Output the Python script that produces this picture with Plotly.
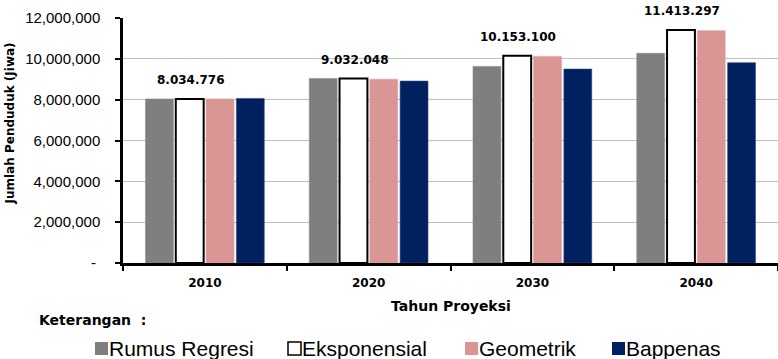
import plotly.graph_objects as go

# Population projection by method (jiwa)
years = ["2010", "2020", "2030", "2040"]
series_names = ["Rumus Regresi", "Eksponensial", "Geometrik", "Bappenas"]
rumus_regresi = [8034776, 9040000, 9630000, 10270000]
eksponensial = [8034776, 9032048, 10153100, 11413297]
geometrik = [8034776, 9000000, 10120000, 11380000]
bappenas = [8060000, 8910000, 9500000, 9810000]

y_tick_vals = [0, 2000000, 4000000, 6000000, 8000000, 10000000, 12000000]
y_tick_text = ["-\u00a0", "2,000,000", "4,000,000", "6,000,000", "8,000,000", "10,000,000", "12,000,000"]

fill_colors = ["#7F7F7F", "#FFFFFF", "#D99694", "#002060"]
line_colors = ["#8C8C8C", "#000000", "#DDA0A0", "#2B4A80"]
line_widths = [0.6, 2, 0.6, 0.6]

W, H = 778, 359
M_L, M_R, M_T, M_B = 123, 0, 18, 96
PW = W - M_L - M_R
PH = H - M_T - M_B


def px_x(px):
    return (px - M_L) / PW


def px_y(py):
    return (H - M_B - py) / PH


fig = go.Figure()
all_values = [rumus_regresi, eksponensial, geometrik, bappenas]
for name, vals, fc, lc, lw in zip(series_names, all_values, fill_colors, line_colors, line_widths):
    fig.add_trace(go.Bar(
        x=years, y=vals, name=name,
        marker=dict(color=fc, line=dict(color=lc, width=lw)),
        showlegend=False,
    ))

# Value labels over the Eksponensial bars (category index positions)
for i, v in enumerate(eksponensial):
    fig.add_annotation(
        x=i, y=v, xref="x", yref="y",
        text=f"{v:,}".replace(",", "."),
        showarrow=False, xshift=-14, yshift=19, yanchor="middle",
        font=dict(family="DejaVu Sans", size=12, color="#000000", weight="bold"),
    )

# Axis titles
fig.add_annotation(
    x=px_x(10), y=px_y(123.5), xref="paper", yref="paper",
    text="Jumlah Penduduk (Jiwa)", textangle=-90, showarrow=False,
    xanchor="center", yanchor="middle",
    font=dict(family="DejaVu Sans", size=12, color="#000000", weight="bold"),
)
fig.add_annotation(
    x=0.5, y=px_y(306), xref="paper", yref="paper",
    text="Tahun Proyeksi", showarrow=False, xanchor="center", yanchor="middle",
    font=dict(family="DejaVu Sans", size=14, color="#000000", weight="bold"),
)
fig.add_annotation(
    x=px_x(37), y=px_y(320), xref="paper", yref="paper",
    text="Keterangan\u00a0 :", showarrow=False, xanchor="left", yanchor="middle",
    font=dict(family="DejaVu Sans", size=14, color="#000000", weight="bold"),
)

# Legend row: swatch + label per series
legend_px = [95, 288, 465, 612]
sw = 13
sq_top, sq_bot = 342, 355
for name, fc, lx in zip(series_names, fill_colors, legend_px):
    fig.add_shape(
        type="rect", xref="paper", yref="paper",
        x0=px_x(lx), x1=px_x(lx + sw), y0=px_y(sq_bot), y1=px_y(sq_top),
        fillcolor=fc, line=dict(color="#000000" if fc == "#FFFFFF" else fc, width=1.5 if fc == "#FFFFFF" else 0),
    )
    fig.add_annotation(
        x=px_x(lx + sw - 1), y=px_y(348), xref="paper", yref="paper",
        text=name, showarrow=False, xanchor="left", yanchor="middle",
        font=dict(family="Liberation Sans", size=21, color="#000000"),
    )

fig.update_layout(
    width=W, height=H,
    margin=dict(l=M_L, r=M_R, t=M_T, b=M_B, pad=0),
    paper_bgcolor="#FFFFFF", plot_bgcolor="#FFFFFF",
    barmode="group", bargap=0.26, bargroupgap=0.08,
    xaxis=dict(
        type="category", categoryorder="array", categoryarray=years,
        range=[-0.5, len(years) - 0.5],
        showline=True, linecolor="#000000", linewidth=3,
        ticks="outside", tickson="boundaries", ticklen=5, tickwidth=2, tickcolor="#000000",
        showgrid=False, ticklabelstandoff=7, tickangle=0,
        tickfont=dict(family="DejaVu Sans", size=12, color="#000000", weight="bold"),
    ),
    yaxis=dict(
        range=[0, 12000000], tickvals=y_tick_vals, ticktext=y_tick_text,
        showline=True, linecolor="#000000", linewidth=2.5,
        ticks="outside", ticklen=5, tickwidth=2, tickcolor="#000000",
        showgrid=True, gridcolor="#BFBFBF", gridwidth=1, zeroline=False,
        ticklabelstandoff=12,
        tickfont=dict(family="Liberation Sans", size=15, color="#000000"),
    ),
)

fig.write_html("out.html")
